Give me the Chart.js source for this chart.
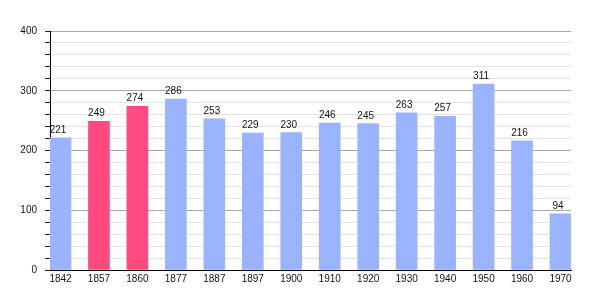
<!DOCTYPE html>
<html>
<head>
<meta charset="utf-8">
<script src="https://cdn.jsdelivr.net/npm/chart.js@4/dist/chart.umd.min.js"></script>
<style>
  html, body { margin: 0; padding: 0; background: #fff; }
  #wrap { width: 600px; height: 300px; position: relative; }
</style>
</head>
<body>
<div id="wrap"><canvas id="c" width="600" height="300"></canvas></div>
<script>
const years = ["1842","1857","1860","1877","1887","1897","1900","1910","1920","1930","1940","1950","1960","1970"];
const population = [221, 249, 274, 286, 253, 229, 230, 246, 245, 263, 257, 311, 216, 94];
const highlighted = ["1857", "1860"];
const yTicks = [0, 100, 200, 300, 400];

const BLUE = "#99b3ff";
const RED = "#ff4a80";
const FONT = "'Liberation Sans', Arial, sans-serif";

const labelPlugin = {
  id: "valueLabels",
  afterDatasetsDraw(chart) {
    const ctx = chart.ctx;
    const meta = chart.getDatasetMeta(0);
    ctx.save();
    ctx.font = "10px " + FONT;
    ctx.fillStyle = "#111";
    ctx.textAlign = "center";
    ctx.textBaseline = "alphabetic";
    meta.data.forEach((bar, i) => {
      ctx.fillText(String(population[i]), bar.x - 2.5, bar.y - 5);
    });
    ctx.restore();
  }
};

new Chart(document.getElementById("c"), {
  type: "bar",
  data: {
    datasets: [{
      data: population.map((v, i) => ({ x: i, y: v })),
      backgroundColor: years.map(y => highlighted.includes(y) ? RED : BLUE),
      borderWidth: 0,
      barThickness: 21
    }]
  },
  options: {
    responsive: false,
    animation: false,
    events: [],
    layout: { padding: { left: 0, right: 29, top: 31, bottom: 0 } },
    plugins: { legend: { display: false }, tooltip: { enabled: false } },
    scales: {
      x: {
        type: "linear",
        offset: false,
        min: -0.273,
        max: 13.273,
        afterBuildTicks(scale) {
          scale.ticks = years.map((_, i) => ({ value: i }));
        },
        afterFit(scale) { scale.height = 30; },
        ticks: {
          autoSkip: false,
          maxRotation: 0,
          padding: 3,
          color: "#111",
          font: { family: FONT, size: 10 },
          callback: (v) => years[v] !== undefined ? years[v] : ""
        },
        grid: { display: false, drawTicks: false, offset: false },
        border: { display: true, color: "#000", width: 1 }
      },
      y: {
        min: 0,
        max: 400,
        afterBuildTicks(scale) {
          const t = [];
          for (let v = 0; v <= 400; v += 20) t.push({ value: v });
          scale.ticks = t;
        },
        afterFit(scale) { scale.width = 50; },
        ticks: {
          autoSkip: false,
          padding: 8,
          color: "#111",
          font: { family: FONT, size: 10 },
          callback: (v) => yTicks.includes(v) ? String(v) : ""
        },
        grid: {
          color: (c) => (c.tick && c.tick.value % 100 === 0) ? "#a8a8a8" : "#e2e2e2",
          tickColor: "#222",
          tickLength: 5,
          lineWidth: 1
        },
        border: { display: true, color: "#000", width: 1 }
      }
    }
  },
  plugins: [labelPlugin]
});
</script>
</body>
</html>
